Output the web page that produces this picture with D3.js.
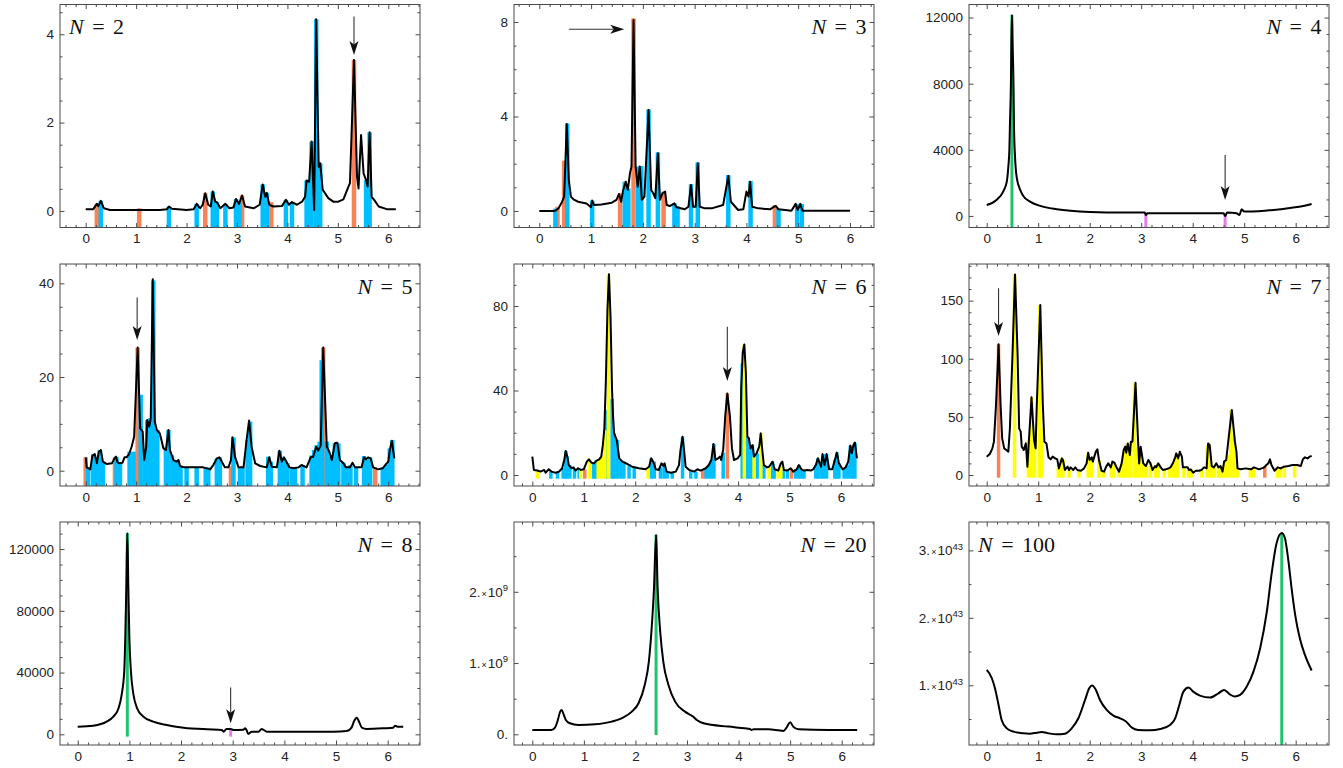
<!DOCTYPE html>
<html>
<head>
<meta charset="utf-8">
<script src="https://cdn.jsdelivr.net/npm/d3@7"></script>
<style>
  body { margin: 0; background: #fff; }
  text { font-family: "Liberation Sans", Arial, sans-serif; }
</style>
</head>
<body>
<svg id="fig" width="1343" height="768"></svg>
<script>
// ---- data: [x, value] ----
const xTicks = [0, 1, 2, 3, 4, 5, 6];

// N = 2
const n2Curve = [[0,0.04],[0.15,0.04],[0.22,0.16],[0.25,0.11],[0.30,0.23],[0.36,0.06],[0.48,0.02],[1.47,0.02],[1.61,0.04],[1.65,0.10],[1.71,0.05],[2.0,0.02],[2.14,0.04],[2.2,0.16],[2.27,0.06],[2.32,0.14],[2.37,0.40],[2.43,0.14],[2.48,0.10],[2.52,0.44],[2.57,0.21],[2.6,0.2],[2.67,0.06],[2.77,0.16],[2.85,0.06],[2.93,0.08],[2.98,0.27],[3.04,0.16],[3.10,0.35],[3.16,0.10],[3.33,0.06],[3.45,0.14],[3.51,0.60],[3.56,0.32],[3.59,0.41],[3.64,0.14],[3.72,0.10],[3.89,0.11],[3.97,0.25],[4.03,0.14],[4.09,0.20],[4.19,0.14],[4.29,0.21],[4.35,0.32],[4.38,0.69],[4.43,0.66],[4.48,1.57],[4.53,0.02],[4.57,4.34],[4.62,1.0],[4.65,1.08],[4.70,0.48],[4.81,0.29],[4.91,0.21],[5.01,0.21],[5.11,0.26],[5.21,0.55],[5.24,0.63],[5.32,3.42],[5.38,0.78],[5.41,0.51],[5.46,1.72],[5.51,0.85],[5.56,0.70],[5.59,0.55],[5.63,1.78],[5.67,0.32],[5.72,0.25],[5.81,0.10],[5.97,0.04],[6.15,0.04]];
const n2Orange = [[0.22,0.16],[1.06,0.06],[2.37,0.40],[3.10,0.35],[3.68,0.20],[5.32,3.42]];
const n2Blue = [[0.30,0.23],[1.65,0.10],[2.2,0.16],[2.52,0.44],[2.6,0.2],[2.77,0.16],[2.98,0.27],[3.05,0.2],[3.51,0.60],[3.59,0.41],[3.97,0.25],[4.09,0.20],[4.38,0.69],[4.42,0.66],[4.48,1.57],[4.57,4.34],[4.65,1.08],[5.56,0.70],[5.63,1.78]];
const n2Arrow = [[5.32,4.40],[5.32,3.53]];

// N = 3
const n3Curve = [[0,0.0],[0.30,0.0],[0.37,0.11],[0.44,0.39],[0.48,0.61],[0.53,3.68],[0.57,1.31],[0.61,0.61],[0.66,0.49],[0.75,0.39],[0.91,0.32],[1.0,0.16],[1.02,0.44],[1.06,0.25],[1.2,0.27],[1.40,0.35],[1.49,0.47],[1.54,0.72],[1.58,0.39],[1.62,0.89],[1.67,1.24],[1.71,0.89],[1.75,1.59],[1.78,1.88],[1.82,8.08],[1.86,1.88],[1.90,1.03],[1.94,1.88],[1.98,0.47],[2.03,0.61],[2.11,4.27],[2.16,0.89],[2.20,0.75],[2.24,0.54],[2.29,2.44],[2.33,0.47],[2.38,0.75],[2.43,0.82],[2.46,0.25],[2.52,0.21],[2.61,0.32],[2.65,0.16],[2.81,0.07],[2.88,0.18],[2.93,1.10],[2.97,0.18],[3.02,0.18],[3.06,2.02],[3.10,0.18],[3.20,0.11],[3.33,0.11],[3.55,0.25],[3.65,1.48],[3.70,0.39],[3.84,0.04],[3.94,0.07],[4.0,0.82],[4.04,0.61],[4.07,1.24],[4.11,0.18],[4.23,0.11],[4.46,0.07],[4.52,0.16],[4.57,0.21],[4.62,0.07],[4.87,0.01],[4.95,0.30],[4.99,0.04],[5.04,0.30],[5.08,0.01],[6.0,0.01]];
const n3Orange = [[0.35,0.18],[0.48,2.13],[1.56,0.75],[1.82,8.15],[2.40,0.82],[4.55,0.25]];
const n3Blue = [[0.31,0.1],[0.54,3.7],[1.02,0.44],[1.65,1.24],[1.72,0.95],[1.91,1.88],[1.97,1.9],[2.11,4.3],[2.29,2.48],[2.61,0.32],[2.67,0.2],[2.93,1.13],[3.06,2.05],[3.65,1.52],[4.08,1.27],[4.62,0.1],[4.98,0.3],[5.07,0.3]];
const n3Arrow = [[0.57,7.69],[1.64,7.69]];

// N = 4
const n4Curve = [[0,666],[0.19,968],[0.32,1472],[0.39,2077],[0.42,2985],[0.44,3994],[0.45,5405],[0.47,8027],[0.48,10649],[0.49,12162],[0.50,10649],[0.52,8027],[0.53,5405],[0.55,3590],[0.58,2380],[0.65,1573],[0.71,1210],[0.84,867],[1.04,605],[1.36,403],[2.01,242],[2.65,202],[3.07,202],[3.09,60],[3.12,161],[3.62,161],[4.6,161],[4.63,0],[4.67,202],[4.85,161],[4.91,60],[4.95,403],[5.0,262],[5.08,262],[5.57,363],[5.89,484],[6.15,605],[6.31,726]];
const n4Green = [[0.49,12162]];
const n4Magenta = [[3.09,161],[4.63,161]];
const n4Arrow = [[4.63,3691],[4.63,968]];

// N = 5
const n5Curve = [[0,2.85],[0.02,0.71],[0.09,0.28],[0.13,3.13],[0.18,3.56],[0.22,1.57],[0.26,4.06],[0.30,4.41],[0.34,1.92],[0.42,1.42],[0.52,1.57],[0.57,2.63],[0.60,2.99],[0.63,1.78],[0.68,1.57],[0.73,1.71],[0.77,2.85],[0.81,2.85],[0.86,3.56],[0.91,5.12],[0.96,7.26],[1.03,26.3],[1.08,9.04],[1.13,8.33],[1.16,2.28],[1.20,5.12],[1.22,10.8],[1.26,9.4],[1.29,11.2],[1.33,40.9],[1.37,10.5],[1.41,8.68],[1.47,7.97],[1.54,4.77],[1.59,4.41],[1.64,8.68],[1.67,4.41],[1.74,2.28],[1.80,1.92],[1.84,2.28],[1.87,1.0],[1.95,0.71],[2.13,0.71],[2.33,0.71],[2.47,0.28],[2.53,1.21],[2.60,2.63],[2.65,2.85],[2.70,1.92],[2.76,0.71],[2.83,0.71],[2.88,2.28],[2.91,7.12],[2.96,2.99],[3.03,0.71],[3.13,0.71],[3.19,6.55],[3.24,10.7],[3.29,5.12],[3.36,1.57],[3.46,1.0],[3.59,0.71],[3.64,2.85],[3.69,0.85],[3.79,0.71],[3.84,4.27],[3.89,1.92],[3.93,2.85],[3.99,1.71],[4.04,0.71],[4.12,0.5],[4.22,0.71],[4.28,1.21],[4.38,0.71],[4.46,2.85],[4.51,2.99],[4.57,5.12],[4.61,4.27],[4.66,5.41],[4.71,26.3],[4.78,5.12],[4.83,4.06],[4.88,2.28],[4.94,5.84],[4.99,5.98],[5.04,2.28],[5.11,1.57],[5.16,0.71],[5.24,0.71],[5.29,1.71],[5.34,0.71],[5.47,0.71],[5.52,2.85],[5.56,2.42],[5.60,2.85],[5.65,2.63],[5.70,0.71],[5.80,0.28],[5.89,0.5],[5.94,1.21],[6.0,1.92],[6.03,4.41],[6.07,6.41],[6.12,2.63]];
const n5Orange = [[0.0,2.85],[0.58,2.85],[1.03,26.3],[2.88,0.9],[4.71,26.3],[5.74,0.71]];
const n5Blue = [[0.05,0.71],[0.15,3.56],[0.2,1.6],[0.28,4.41],[0.34,1.92],[0.61,2.99],[0.68,1.57],[0.87,4.06],[0.95,4.06],[1.09,16.2],[1.18,2.28],[1.22,10.8],[1.28,11.2],[1.34,40.6],[1.42,8.68],[1.59,5.0],[1.64,8.7],[1.71,3.3],[1.77,2.28],[1.82,1.92],[1.88,1.0],[2.0,0.71],[2.2,0.71],[2.38,0.71],[2.43,0.71],[2.60,2.63],[2.66,2.85],[2.93,7.12],[3.06,0.71],[3.11,0.71],[3.21,6.55],[3.26,10.5],[3.62,2.99],[3.67,1.92],[3.85,4.27],[3.91,2.85],[3.95,2.28],[4.0,1.57],[4.09,0.71],[4.15,0.71],[4.30,1.21],[4.48,3.27],[4.53,4.41],[4.58,5.48],[4.64,6.2],[4.68,23.6],[4.78,6.2],[4.86,2.99],[4.94,5.84],[5.01,5.84],[5.11,1.71],[5.17,0.71],[5.25,1.21],[5.36,0.71],[5.52,3.13],[5.57,2.28],[5.64,2.85],[5.89,0.71],[5.97,1.21],[6.03,4.77],[6.08,6.55]];
const n5Arrow = [[1.02,37.0],[1.02,27.9]];

// N = 6
const n6Curve = [[0,8.7],[0.03,2.4],[0.10,2.1],[0.16,1.6],[0.23,2.4],[0.26,1.1],[0.32,2.7],[0.37,1.6],[0.45,1.1],[0.52,1.6],[0.58,3.2],[0.62,7.1],[0.65,11.4],[0.68,8.7],[0.71,4.7],[0.76,3.2],[0.80,3.6],[0.84,2.1],[0.89,3.2],[0.94,2.4],[1.0,2.7],[1.06,6.3],[1.10,7.4],[1.15,5.8],[1.20,5.5],[1.25,6.8],[1.30,7.4],[1.34,8.7],[1.37,14],[1.40,22],[1.43,45],[1.46,78],[1.49,95.0],[1.52,75],[1.55,40],[1.57,27.6],[1.59,19.7],[1.64,16.6],[1.69,7.9],[1.75,6.3],[1.85,5.2],[1.94,3.9],[2.07,3.2],[2.20,2.7],[2.27,3.9],[2.31,7.9],[2.35,6.3],[2.40,2.7],[2.46,2.4],[2.51,5.5],[2.55,4.3],[2.57,5.5],[2.61,1.6],[2.69,1.1],[2.79,1.6],[2.85,4.7],[2.88,11.8],[2.92,18.1],[2.95,11.8],[2.98,3.9],[3.05,2.4],[3.14,1.6],[3.21,2.7],[3.27,2.1],[3.37,3.2],[3.43,4.7],[3.48,7.1],[3.52,14.7],[3.56,7.1],[3.61,7.9],[3.65,8.7],[3.67,7.1],[3.71,12],[3.75,28],[3.79,38.6],[3.84,28],[3.88,12.6],[3.92,7.1],[3.99,7.9],[4.04,9.5],[4.06,41],[4.09,58],[4.12,61.8],[4.15,49],[4.18,18.1],[4.21,17.4],[4.24,12.6],[4.28,14.2],[4.31,8.7],[4.36,10.3],[4.41,13.4],[4.44,19.7],[4.47,11.8],[4.50,4.7],[4.56,3.6],[4.60,3.9],[4.67,6.3],[4.71,2.7],[4.78,2.1],[4.83,5.5],[4.86,6.3],[4.89,2.4],[4.96,2.1],[5.02,3.2],[5.07,1.6],[5.14,2.7],[5.18,4.7],[5.23,2.7],[5.28,2.1],[5.35,2.4],[5.41,2.1],[5.46,2.7],[5.51,4.7],[5.55,7.9],[5.61,3.9],[5.64,9.9],[5.68,4.7],[5.72,9.9],[5.77,2.7],[5.83,2.7],[5.88,7.1],[5.92,10.6],[5.96,5.5],[6.03,2.7],[6.09,3.6],[6.14,6.3],[6.18,13.9],[6.21,10.3],[6.24,14.2],[6.27,15.3],[6.31,7.9]];
const n6Yellow = [[0.10,2.1],[0.94,2.4],[1.12,7.4],[1.28,6.8],[1.34,8.7],[1.41,21.3],[1.48,95],[2.25,3.5],[4.12,61.8],[4.31,8.7],[4.44,19.7],[4.60,3.9],[4.78,2.1],[4.83,5.5]];
const n6Orange = [[1.02,2.7],[3.31,2.3],[3.79,38.6],[5.04,3.0]];
const n6Blue = [[0.36,1.6],[0.49,1.4],[0.60,3.2],[0.65,11.4],[0.68,8.7],[0.73,4.7],[0.82,3.0],[0.91,3.0],[1.19,5.5],[1.23,6.8],[1.43,30.8],[1.55,36],[1.59,19.7],[1.65,16.6],[1.72,7.0],[1.78,6.3],[1.88,5.2],[1.98,3.9],[2.31,7.9],[2.37,6.3],[2.49,3.6],[2.56,5.5],[2.62,1.6],[2.72,1.1],[2.92,18.1],[3.08,2.4],[3.18,1.6],[3.37,3.2],[3.43,4.7],[3.48,7.1],[3.53,14.7],[3.71,10.6],[4.08,52.8],[4.18,18.1],[4.24,12.6],[4.28,14.2],[4.37,10.3],[4.50,4.7],[4.67,6.3],[4.70,2.7],[4.88,2.4],[4.96,2.1],[5.12,2.7],[5.18,4.7],[5.23,2.7],[5.28,2.1],[5.51,4.7],[5.55,7.9],[5.61,3.9],[5.66,9.9],[5.72,9.9],[5.88,7.1],[5.92,10.6],[5.96,5.5],[6.06,3.2],[6.12,4.7],[6.18,13.9],[6.22,10.3],[6.27,15.3]];
const n6Arrow = [[3.79,70.2],[3.79,44.5]];

// N = 7
const n7Curve = [[0,15.8],[0.06,18.1],[0.11,22.9],[0.14,28.7],[0.18,60],[0.23,112.4],[0.27,60],[0.30,31.5],[0.34,22.9],[0.38,21.5],[0.42,20.1],[0.45,40],[0.50,103],[0.55,172.6],[0.60,103],[0.63,40],[0.66,37.3],[0.68,24.4],[0.72,21.5],[0.76,27.2],[0.79,7.2],[0.82,30.1],[0.87,66.8],[0.92,30.1],[0.95,22.9],[0.97,57],[1.04,146.3],[1.09,60],[1.12,28.7],[1.16,27.2],[1.20,15.2],[1.24,13.5],[1.28,15.8],[1.33,14.3],[1.37,13.5],[1.40,5.7],[1.46,14.3],[1.48,12.9],[1.52,4.3],[1.57,7.2],[1.60,4.3],[1.63,6.6],[1.68,4.3],[1.72,6.6],[1.76,4.3],[1.83,3.7],[1.89,5.7],[1.94,10.0],[1.97,19.2],[2.0,12.9],[2.04,15.2],[2.06,11.5],[2.12,20.1],[2.15,22.1],[2.18,12.9],[2.23,3.7],[2.28,2.9],[2.32,7.2],[2.36,10.0],[2.41,6.6],[2.44,11.5],[2.48,10.6],[2.52,6.6],[2.57,2.9],[2.62,10.0],[2.66,21.5],[2.69,24.4],[2.71,19.2],[2.74,27.2],[2.78,17.2],[2.80,28.7],[2.83,28.7],[2.89,79.4],[2.94,28.7],[2.96,10.0],[2.99,24.4],[3.04,10.0],[3.09,7.7],[3.14,12.9],[3.18,10.0],[3.22,4.3],[3.27,7.7],[3.29,6.6],[3.33,10.0],[3.38,6.6],[3.42,4.3],[3.48,4.9],[3.53,5.7],[3.57,6.6],[3.62,10.6],[3.66,15.2],[3.68,18.6],[3.72,14.3],[3.75,20.1],[3.79,15.8],[3.81,6.6],[3.90,6.6],[3.93,4.3],[3.96,4.9],[4.01,2.0],[4.06,3.7],[4.12,3.7],[4.17,4.3],[4.22,6.6],[4.27,5.7],[4.30,27.2],[4.33,25.8],[4.37,7.7],[4.41,6.6],[4.46,10.0],[4.50,6.6],[4.54,7.7],[4.58,2.9],[4.61,11.5],[4.65,12.9],[4.69,28.7],[4.76,55.9],[4.82,28.7],[4.85,20],[4.87,5.7],[4.93,4.9],[5.03,5.7],[5.13,4.9],[5.19,6.6],[5.29,4.9],[5.39,6.6],[5.43,8.6],[5.47,10.0],[5.50,13.5],[5.53,8.6],[5.59,3.7],[5.65,6.6],[5.71,5.7],[5.77,7.2],[5.86,7.7],[5.94,8.6],[6.03,8.6],[6.10,7.7],[6.14,13.5],[6.18,15.2],[6.23,14.3],[6.27,15.8],[6.31,16.3]];
const n7Yellow = [[0.54,172.6],[0.81,30.1],[0.87,66.8],[0.93,30],[1.03,146],[1.07,40],[1.39,6],[1.44,14.3],[1.48,12.9],[1.60,4.3],[1.79,4],[1.97,19],[2.04,15],[2.18,12.9],[2.27,3],[2.42,6.6],[2.47,10.6],[2.57,3],[2.63,10],[2.68,24],[2.73,27],[2.80,28.7],[2.87,79],[2.92,24],[2.98,24],[3.04,10],[3.10,7.7],[3.18,10],[3.28,7.7],[3.33,10],[3.45,4.9],[3.55,5.7],[3.62,10.6],[3.66,15.2],[3.70,18.6],[3.83,6.6],[3.92,4.3],[3.97,4.9],[4.18,4.3],[4.28,25],[4.33,25.8],[4.38,7.7],[4.42,6.6],[4.50,6.6],[4.56,7.7],[4.63,11.5],[4.68,17.2],[4.74,55.9],[4.80,34.4],[4.87,5.7],[5.12,4.9],[5.18,6.6],[5.65,6.6],[5.70,5.7],[5.78,7.2],[5.98,8.6]];
const n7Orange = [[0.23,112.4],[5.40,7.7]];
const n7Arrow = [[0.23,160.6],[0.23,119.6]];

// N = 8
const n8Curve = [[0,4973],[0.30,5622],[0.56,8216],[0.69,11460],[0.79,16865],[0.85,25514],[0.90,40649],[0.92,62270],[0.94,94703],[0.96,130378],[0.98,94703],[1.0,62270],[1.03,40649],[1.08,25514],[1.15,16865],[1.27,11460],[1.46,8216],[1.72,6054],[2.05,4324],[2.50,3243],[2.79,2811],[2.82,1730],[2.88,3459],[2.96,3459],[3.01,2811],[3.21,3027],[3.24,3892],[3.27,2595],[3.30,216],[3.37,1730],[3.50,1730],[3.56,3459],[3.59,3027],[3.66,1730],[4.95,1730],[5.21,2162],[5.30,4324],[5.35,8649],[5.40,10811],[5.45,7784],[5.50,4324],[5.59,3459],[5.92,3892],[6.11,4324],[6.14,5622],[6.19,4973],[6.30,4973]];
const n8Green = [[0.96,130378]];
const n8Magenta = [[2.96,3459]];
const n8Arrow = [[2.96,30270],[2.96,7135]];

// N = 20 (values in units of 10^9)
const n20Curve = [[0,0.061],[0.37,0.061],[0.44,0.094],[0.49,0.187],[0.54,0.318],[0.57,0.342],[0.60,0.295],[0.65,0.201],[0.73,0.155],[0.89,0.131],[1.22,0.141],[1.54,0.178],[1.73,0.225],[1.93,0.318],[2.06,0.436],[2.18,0.693],[2.26,1.021],[2.31,1.443],[2.36,2.052],[2.40,2.801],[2.43,2.052],[2.48,1.443],[2.54,1.021],[2.64,0.693],[2.77,0.459],[2.96,0.318],[3.12,0.248],[3.19,0.201],[3.32,0.155],[3.80,0.108],[4.12,0.084],[4.22,0.075],[4.25,0.061],[4.29,0.070],[4.58,0.070],[4.77,0.056],[4.87,0.047],[4.93,0.094],[5.0,0.169],[5.06,0.108],[5.16,0.070],[5.74,0.061],[6.30,0.061]];
const n20Green = [[2.40,2.80]];

// N = 100 (values in units of 10^43)
const n100Curve = [[0,1.228],[0.10,1.104],[0.16,0.955],[0.23,0.708],[0.29,0.485],[0.39,0.361],[0.52,0.312],[0.71,0.287],[0.84,0.282],[0.97,0.297],[1.07,0.307],[1.17,0.292],[1.36,0.272],[1.52,0.282],[1.65,0.361],[1.78,0.510],[1.91,0.782],[1.99,0.955],[2.05,0.995],[2.12,0.931],[2.20,0.782],[2.33,0.634],[2.46,0.550],[2.59,0.510],[2.71,0.460],[2.82,0.371],[2.94,0.337],[3.17,0.332],[3.37,0.351],[3.56,0.411],[3.66,0.510],[3.74,0.708],[3.82,0.906],[3.92,0.965],[4.01,0.906],[4.14,0.847],[4.34,0.817],[4.50,0.881],[4.61,0.931],[4.72,0.866],[4.82,0.832],[4.92,0.856],[5.05,0.980],[5.18,1.203],[5.31,1.550],[5.44,2.094],[5.53,2.639],[5.63,3.109],[5.73,3.257],[5.79,3.183],[5.86,2.837],[5.92,2.441],[5.99,2.045],[6.08,1.698],[6.18,1.450],[6.31,1.218]];
const n100Green = [[5.73,3.257]];

// ---- styling ----
const BLUE = '#00bfff', ORANGE = '#fa8258', YELLOW = '#ffff00', GREEN = '#1ec46c', MAGENTA = '#e47ee4';
const FRAME = '#4a4a4a';
const PW = 360;

const panels = [
  { left: 60,  top: 4.5, h: 223, xDom: [-0.51, 6.629],  yDom: [-0.375, 4.674],  yTicks: [0, 2, 4], yMinor: 0.5, label: '2', side: 'left',
    curve: n2Curve, bars: [[n2Orange, ORANGE], [n2Blue, BLUE]], barW: 4.5, arrow: n2Arrow },
  { left: 514, top: 4.5, h: 223, xDom: [-0.489, 6.464], yDom: [-0.70, 8.74],    yTicks: [0, 4, 8], yMinor: 1, label: '3', side: 'right',
    curve: n3Curve, bars: [[n3Orange, ORANGE], [n3Blue, BLUE]], barW: 4.5, arrow: n3Arrow },
  { left: 969, top: 4.5, h: 223, xDom: [-0.344, 6.647], yDom: [-700, 12790],    yTicks: [0, 4000, 8000, 12000], yMinor: 1000, label: '4', side: 'right',
    curve: n4Curve, bars: [[n4Green, GREEN], [n4Magenta, MAGENTA]], barW: 3, arrow: n4Arrow, smooth: true },
  { left: 60,  top: 264, h: 222, xDom: [-0.51, 6.629],  yDom: [-3.27, 44.13],   yTicks: [0, 20, 40], yMinor: 5, label: '5', side: 'right',
    curve: n5Curve, bars: [[n5Orange, ORANGE], [n5Blue, BLUE]], barW: 4.5, arrow: n5Arrow },
  { left: 514, top: 264, h: 222, xDom: [-0.356, 6.641], yDom: [-5.21, 99.88],   yTicks: [0, 40, 80], yMinor: 10, label: '6', side: 'right',
    curve: n6Curve, bars: [[n6Blue, BLUE], [n6Orange, ORANGE], [n6Yellow, YELLOW]], barW: 3.5, base: -1.75, arrow: n6Arrow },
  { left: 969, top: 264, h: 222, xDom: [-0.344, 6.647], yDom: [-9.46, 181.55],  yTicks: [0, 50, 100, 150], yMinor: 10, label: '7', side: 'right',
    curve: n7Curve, bars: [[n7Yellow, YELLOW], [n7Orange, ORANGE]], barW: 3.5, base: -2.3, arrow: n7Arrow },
  { left: 60,  top: 522, h: 223, xDom: [-0.343, 6.625], yDom: [-6919, 137514],  yTicks: [0, 40000, 80000, 120000], yMinor: 10000, label: '8', side: 'right',
    curve: n8Curve, bars: [[n8Green, GREEN], [n8Magenta, MAGENTA]], barW: 3, base: -1500, arrow: n8Arrow, smooth: true },
  { left: 514, top: 522, h: 223, xDom: [-0.355, 6.626], yDom: [-0.150, 2.979],  yTicks: [0, 1, 2], yMinor: 0.5, exp: '9', label: '20', side: 'right',
    curve: n20Curve, bars: [[n20Green, GREEN]], barW: 3, base: -0.01, smooth: true },
  { left: 969, top: 522, h: 223, xDom: [-0.344, 6.647], yDom: [0.114, 3.421],   yTicks: [1, 2, 3], yMinor: 0.5, exp: '43', label: '100', side: 'left',
    curve: n100Curve, bars: [[n100Green, GREEN]], barW: 3, smooth: true }
];

const svg = d3.select('#fig');

function minorTicks(dom, step, majors) {
  const lo = Math.ceil(dom[0] / step) * step;
  return d3.range(lo, dom[1], step)
    .map(v => +v.toFixed(6))
    .filter(v => !majors.some(m => Math.abs(m - v) < step / 10));
}

function styleAxis(sel) {
  sel.select('.domain').remove();
  sel.selectAll('.tick line').attr('stroke', FRAME).attr('stroke-width', 1);
  sel.selectAll('.tick text').attr('fill', '#222').style('font-size', '13.5px');
}

function drawArrow(g, x, y, a) {
  const x1 = x(a[0][0]), y1 = y(a[0][1]), x2 = x(a[1][0]), y2 = y(a[1][1]);
  const ang = Math.atan2(y2 - y1, x2 - x1);
  const L = 14, HW = 4.5, NOTCH = 3.5;
  g.append('line')
    .attr('x1', x1).attr('y1', y1)
    .attr('x2', x2 - Math.cos(ang) * (L - NOTCH)).attr('y2', y2 - Math.sin(ang) * (L - NOTCH))
    .attr('stroke', '#333').attr('stroke-width', 1.1);
  g.append('path')
    .attr('d', `M0,0L${-L},${-HW}L${-L + NOTCH},0L${-L},${HW}Z`)
    .attr('transform', `translate(${x2},${y2}) rotate(${ang * 180 / Math.PI})`)
    .attr('fill', '#111');
}

panels.forEach((p, i) => {
  const g = svg.append('g');
  const x = d3.scaleLinear().domain(p.xDom).range([p.left, p.left + PW]);
  const y = d3.scaleLinear().domain(p.yDom).range([p.top + p.h, p.top]);
  const base = p.base !== undefined ? p.base : p.yDom[0];

  g.append('clipPath').attr('id', 'clip' + i)
    .append('rect').attr('x', p.left).attr('y', p.top).attr('width', PW).attr('height', p.h);
  const plot = g.append('g').attr('clip-path', `url(#clip${i})`);

  // vertical bars
  p.bars.forEach(([data, color]) => {
    plot.append('g').selectAll('rect')
      .data(data)
      .enter()
      .append('rect')
      .attr('x', d => x(d[0]) - p.barW / 2)
      .attr('width', p.barW)
      .attr('y', d => y(d[1]))
      .attr('height', d => Math.max(0, y(base) - y(d[1])))
      .attr('fill', color);
  });

  // spectrum curve
  plot.append('path')
    .datum(p.curve)
    .attr('fill', 'none')
    .attr('stroke', '#000')
    .attr('stroke-width', 2)
    .attr('stroke-linejoin', 'round')
    .attr('d', d3.line()
      .curve(p.smooth ? d3.curveMonotoneX : d3.curveLinear)
      .x(d => x(d[0])).y(d => y(d[1])));

  if (p.arrow) drawArrow(g, x, y, p.arrow);

  // frame
  g.append('rect')
    .attr('x', p.left).attr('y', p.top).attr('width', PW).attr('height', p.h)
    .attr('fill', 'none').attr('stroke', FRAME).attr('stroke-width', 1);

  const xMin = minorTicks(p.xDom, 0.2, xTicks);
  const yMin = minorTicks(p.yDom, p.yMinor, p.yTicks);
  const fmt = p.exp ? (d => d + '.') : d3.format('d');

  // major ticks with labels, bottom and left
  const bottom = g.append('g').attr('transform', `translate(0,${p.top + p.h})`)
    .call(d3.axisBottom(x).tickValues(xTicks).tickSize(-4.5).tickPadding(6).tickFormat(d3.format('d')));
  styleAxis(bottom);
  const left = g.append('g').attr('transform', `translate(${p.left},0)`)
    .call(d3.axisLeft(y).tickValues(p.yTicks).tickSize(-4.5).tickPadding(6).tickFormat(fmt));
  styleAxis(left);

  if (p.exp) {
    left.selectAll('.tick text').each(function (d) {
      if (d === 0) return;
      const t = d3.select(this).text(null);
      t.append('tspan').text(d + '.');
      t.append('tspan').attr('font-size', '9px').attr('dx', 1).text('\u00d7');
      t.append('tspan').attr('dx', 1).text('10');
      t.append('tspan').attr('font-size', '9.5px').attr('dy', -5.5).text(p.exp);
    });
  }

  // mirrored major ticks, top and right
  styleAxis(g.append('g').attr('transform', `translate(0,${p.top})`)
    .call(d3.axisTop(x).tickValues(xTicks).tickSize(-4.5).tickFormat('')));
  styleAxis(g.append('g').attr('transform', `translate(${p.left + PW},0)`)
    .call(d3.axisRight(y).tickValues(p.yTicks).tickSize(-4.5).tickFormat('')));

  // minor ticks on all four sides
  styleAxis(g.append('g').attr('transform', `translate(0,${p.top + p.h})`)
    .call(d3.axisBottom(x).tickValues(xMin).tickSize(-2.5).tickFormat('')));
  styleAxis(g.append('g').attr('transform', `translate(0,${p.top})`)
    .call(d3.axisTop(x).tickValues(xMin).tickSize(-2.5).tickFormat('')));
  styleAxis(g.append('g').attr('transform', `translate(${p.left},0)`)
    .call(d3.axisLeft(y).tickValues(yMin).tickSize(-2.5).tickFormat('')));
  styleAxis(g.append('g').attr('transform', `translate(${p.left + PW},0)`)
    .call(d3.axisRight(y).tickValues(yMin).tickSize(-2.5).tickFormat('')));

  // N label
  const lab = g.append('text')
    .attr('x', p.side === 'left' ? p.left + 9 : p.left + PW - 7.5)
    .attr('y', p.top + 29.5)
    .attr('text-anchor', p.side === 'left' ? 'start' : 'end')
    .style('font-family', '"Liberation Serif", "Times New Roman", serif')
    .style('font-size', '22px')
    .attr('fill', '#111');
  lab.append('tspan').style('font-style', 'italic').text('N');
  lab.append('tspan').attr('dx', 3).text('\u00a0=');
  lab.append('tspan').attr('dx', 3).text('\u00a0' + p.label);
});
</script>
</body>
</html>
